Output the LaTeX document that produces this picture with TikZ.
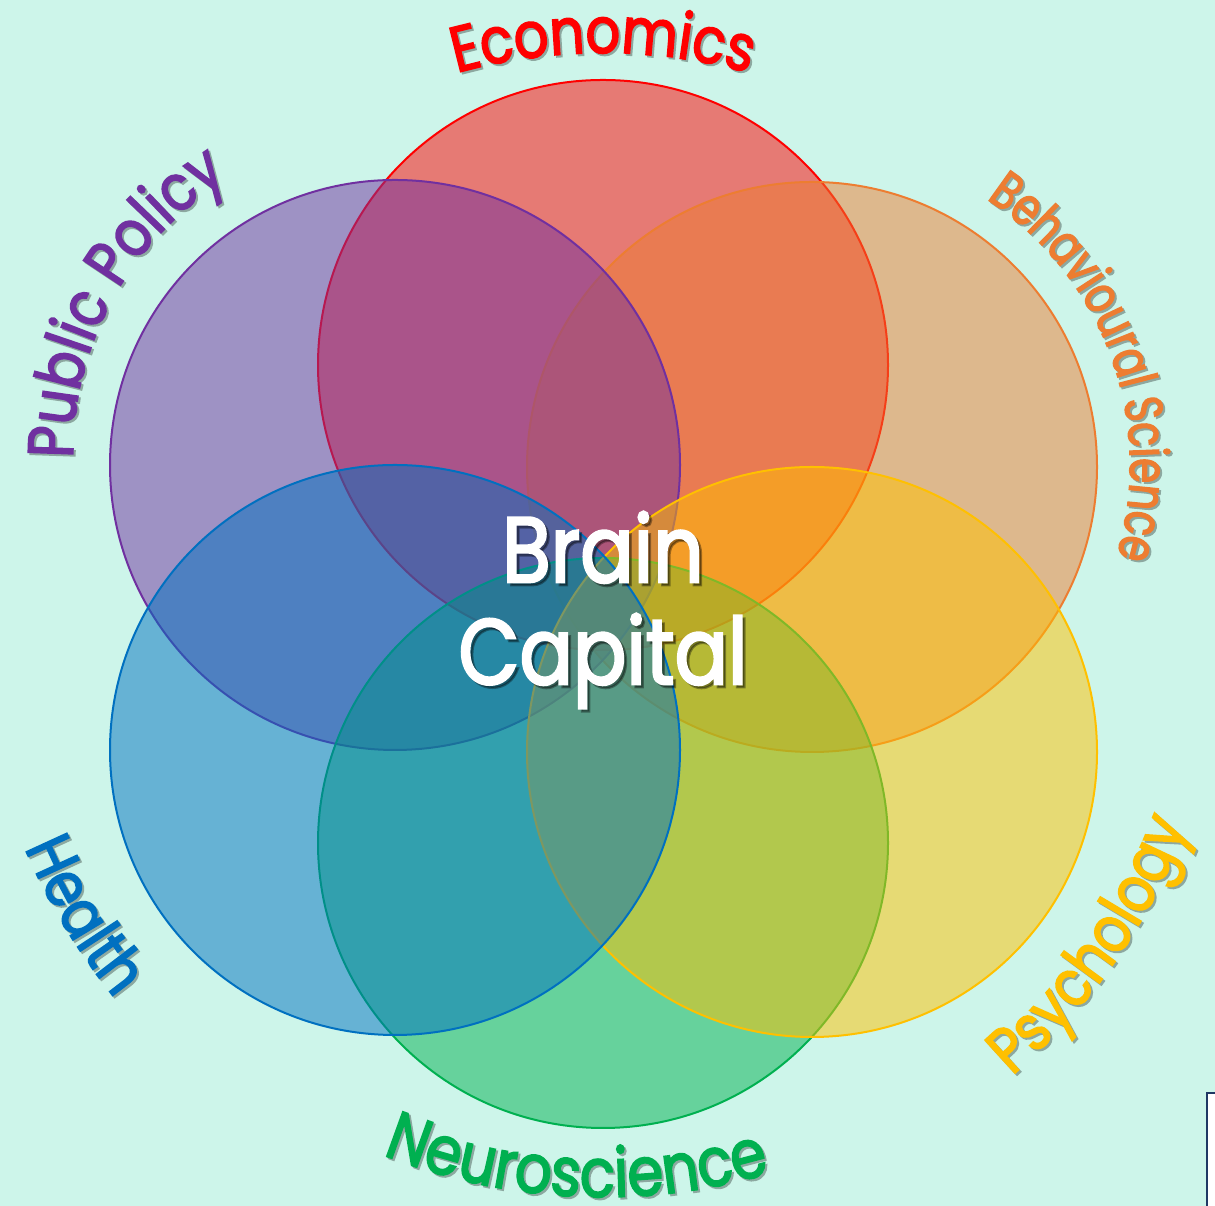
\documentclass[tikz,border=0pt]{standalone}
\usepackage{fontspec}
\setmainfont{Poppins}
\newfontfamily\labfont[FakeStretch=0.85, FakeBold=2.5]{Poppins}
\newfontfamily\narfont[FakeStretch=0.76, FakeBold=2.5]{Poppins}
\usetikzlibrary{decorations.text}
\definecolor{bg}{RGB}{205,245,234}
\definecolor{econD}{RGB}{255,0,0}
\definecolor{polD}{RGB}{112,48,160}
\definecolor{behD}{RGB}{237,125,49}
\definecolor{heaD}{RGB}{0,112,192}
\definecolor{neuD}{RGB}{0,176,80}
\definecolor{psyD}{RGB}{255,192,0}
\definecolor{shad}{RGB}{140,168,160}
\tikzset{
  venn/.style={circle, minimum size=570pt, inner sep=0pt, outer sep=0pt, line width=2pt, fill=#1, draw=#1, fill opacity=0.5},
  arclabel/.style={decorate, decoration={text along path, text align=center, text color=#1}},
}
\begin{document}
\begin{tikzpicture}[x=1pt,y=1pt]
\fill[bg] (0,0) rectangle (1215,1206);
\useasboundingbox (0,0) rectangle (1215,1206);
\coordinate (O) at (603,603);
% circles (drawing order matters for the overlap colours)
\node[venn=econD] (econ) at (603,841) {};
\node[venn=behD] (beh) at (812,739) {};
\node[venn=polD] (pol) at (395,741) {};
\node[venn=neuD] (neu) at (603,363) {};
\node[venn=psyD] (psy) at (812,454) {};
\node[venn=heaD] (hea) at (395,456) {};
\coordinate (polT) at (395,752);
\coordinate (behT) at (812,741);
% labels (shadow then text)
\foreach \dx/\dy/\c in {2/-2/shad, 0/0/econD}{
  \path[arclabel=\c, decoration={text={|\labfont\fontsize{64}{70}\selectfont|Economics}}]
    ([shift={(\dx,\dy)}]O) ++(106:550) arc (106:74:550);}
\foreach \dx/\dy/\c in {2/-2/shad, 0/0/polD}{
  \path[arclabel=\c, decoration={text={|\labfont\fontsize{64}{70}\selectfont|Public Policy}}]
    ([shift={(\dx,\dy)}]polT) ++(182:322) arc (182:120:322);}
\foreach \dx/\dy/\c in {2/-2/shad, 0/0/behD}{
  \path[arclabel=\c, decoration={text={|\narfont\fontsize{53}{58}\selectfont|Behavioural Science}}]
    ([shift={(\dx,\dy)}]behT) ++(58:318) arc (58:-18:318);}
\foreach \dx/\dy/\c in {2/-2/shad, 0/0/heaD}{
  \path[arclabel=\c, decoration={text={|\labfont\fontsize{64}{70}\selectfont|Health}}]
    ([shift={(\dx,\dy)}]O) ++(201.5:628) arc (201.5:220.5:628);}
\foreach \dx/\dy/\c in {2/-2/shad, 0/0/neuD}{
  \path[arclabel=\c, decoration={text={|\labfont\fontsize{68}{74}\selectfont|Neuroscience}}]
    ([shift={(\dx,\dy)}]O) ++(249.3:594) arc (249.3:285.3:594);}
\foreach \dx/\dy/\c in {2/-2/shad, 0/0/psyD}{
  \path[arclabel=\c, decoration={text={|\labfont\fontsize{64}{70}\selectfont|Psychology}}]
    ([shift={(\dx,\dy)}]O) ++(308:625) arc (308:342:625);}
% centre title
\node[text=black, opacity=0.35, align=center, font=\labfont\fontsize{93}{102}\selectfont] (titlesh) at (606,593) {Brain\\Capital};
\node[text=white, align=center, font=\labfont\fontsize{93}{102}\selectfont] (title) at (603,596) {Brain\\Capital};
% corner artefact
\fill[white] (1207,0) rectangle (1215,113);
\draw[line width=1.5pt, color={rgb,255:red,31;green,56;blue,100}] (1207,0) -- (1207,113) -- (1215,113);
\end{tikzpicture}
\end{document}
